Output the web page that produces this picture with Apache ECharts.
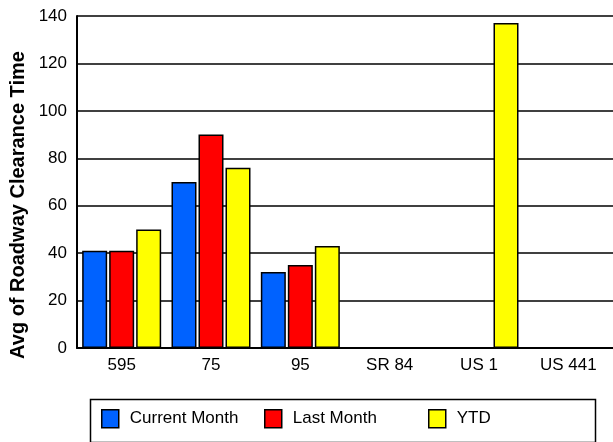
<!DOCTYPE html>
<html><head><meta charset="utf-8">
<script src="https://cdn.jsdelivr.net/npm/echarts@6/dist/echarts.min.js"></script>
<style>html,body{margin:0;padding:0;background:#fff}#c{width:613px;height:442px}</style>
</head><body><div id="c"></div>
<script>
const categories = ['595', '75', '95', 'SR 84', 'US 1', 'US 441'];
const currentMonth = [41, 70, 32, null, null, null];
const lastMonth = [41, 90, 35, null, null, null];
const ytd = [50, 76, 43, null, 137, null];
const yTicks = { min: 0, max: 140, interval: 20 };
const seriesNames = ['Current Month', 'Last Month', 'YTD'];
const yTitle = 'Avg of Roadway Clearance Time';
const colors = ['#0062FF', '#FF0000', '#FFFF00'];

const font = 'Liberation Sans, Arial, sans-serif';
const chart = echarts.init(document.getElementById('c'));
const mkSeries = (name, data, color) => ({
  name, type: 'bar', data, barWidth: 25, barGap: '8%',
  itemStyle: { color, borderColor: '#000', borderWidth: 1.5 }
});
const legendBase = (name, left) => ({
  data: [name], left, top: 409, padding: 0, icon: 'rect', itemWidth: 17, itemHeight: 18,
  itemStyle: { borderColor: '#000', borderWidth: 1.5 },
  textStyle: { fontFamily: font, fontSize: 17, color: '#000', padding: [0, 0, 0, 6] },
  selectedMode: false
});
chart.setOption({
  animation: false,
  color: colors,
  grid: { left: 77, right: 0, top: 16, bottom: 94 },
  xAxis: {
    type: 'category', data: categories,
    axisLine: { lineStyle: { color: '#000', width: 2 } },
    axisTick: { show: false },
    axisLabel: { fontFamily: font, fontSize: 17, color: '#000', margin: 9 }
  },
  yAxis: {
    type: 'value', min: yTicks.min, max: yTicks.max, interval: yTicks.interval,
    axisLine: { show: true, lineStyle: { color: '#000', width: 2 } },
    axisTick: { show: false },
    axisLabel: { fontFamily: font, fontSize: 17, color: '#000', margin: 10 },
    splitLine: { lineStyle: { color: '#000', width: 1.5 } }
  },
  legend: [
    legendBase(seriesNames[0], 101),
    legendBase(seriesNames[1], 264),
    legendBase(seriesNames[2], 428)
  ],
  graphic: [{
    type: 'rect', left: 88, top: 397,
    shape: { width: 505, height: 43 },
    style: { fill: 'none', stroke: '#000', lineWidth: 1.5 }, z: -1
  }, {
    type: 'text', x: 18, y: 205, rotation: Math.PI / 2,
    style: { text: yTitle, fontFamily: font, fontSize: 20, fontWeight: 'bold', fill: '#000',
      align: 'center', verticalAlign: 'middle' }
  }],
  series: [
    mkSeries(seriesNames[0], currentMonth, colors[0]),
    mkSeries(seriesNames[1], lastMonth, colors[1]),
    mkSeries(seriesNames[2], ytd, colors[2])
  ]
});
</script></body></html>
